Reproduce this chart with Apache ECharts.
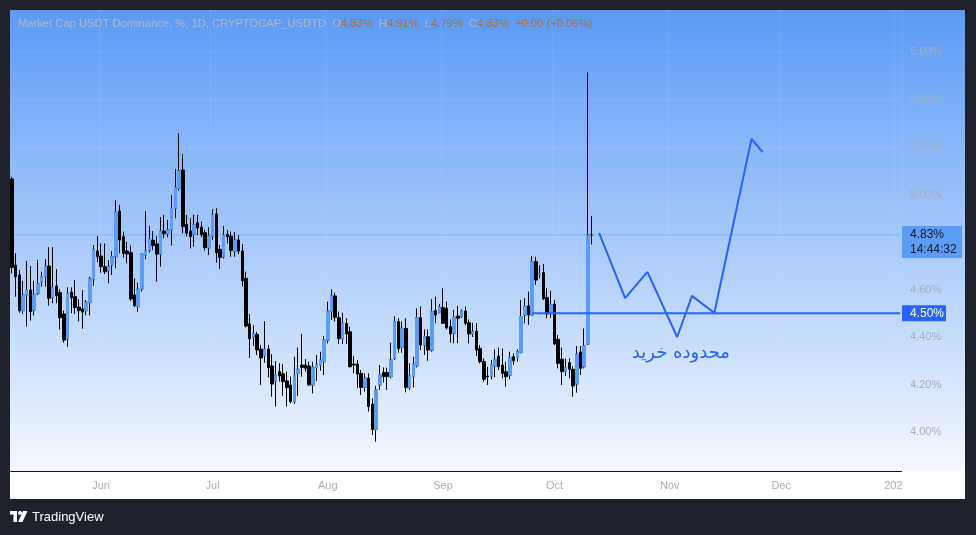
<!DOCTYPE html>
<html><head><meta charset="utf-8">
<script src="https://cdn.jsdelivr.net/npm/echarts@6/dist/echarts.min.js"></script>
<style>html,body{margin:0;padding:0;background:#1e222d;}#c{width:976px;height:535px;}</style>
</head><body><div id="c"></div>
<script>
// ---- data ----
const startYear = 2025, startMonth = 5, startDay = 8; // first category: 2025-05-08
const dayCount = 240;
const opens = [5.065,4.703,4.661,4.511,4.577,4.598,4.514,4.584,4.633,4.654,
4.699,4.566,4.615,4.587,4.497,4.392,4.589,4.570,4.526,4.518,
4.511,4.546,4.644,4.762,4.741,4.696,4.679,4.703,4.738,4.931,
4.822,4.762,4.755,4.577,4.528,4.602,4.745,4.766,4.808,4.792,
4.749,4.846,4.836,4.851,4.942,5.026,5.103,4.874,4.846,4.832,
4.881,4.862,4.839,4.776,4.825,4.918,4.769,4.738,4.832,4.825,
4.762,4.808,4.762,4.647,4.455,4.401,4.411,4.349,4.321,4.349,
4.278,4.215,4.254,4.245,4.215,4.198,4.128,4.247,4.282,4.282,
4.278,4.198,4.272,4.282,4.296,4.387,4.507,4.573,4.481,4.392,
4.458,4.422,4.286,4.286,4.247,4.188,4.227,4.118,4.011,4.199,
4.251,4.251,4.233,4.310,4.465,4.356,4.436,4.188,4.233,4.279,
4.481,4.366,4.401,4.345,4.511,4.502,4.524,4.521,4.444,4.416,
4.488,4.486,4.509,4.460,4.413,4.425,4.352,4.296,4.236,4.236,
4.278,4.320,4.282,4.254,4.240,4.317,4.313,4.335,4.493,4.531,
4.493,4.717,4.665,4.671,4.566,4.500,4.539,4.390,4.306,4.254,
4.292,4.264,4.202,4.337,4.275,4.371,4.83];
const closes = [4.692,4.654,4.511,4.577,4.598,4.507,4.577,4.623,4.654,4.696,
4.563,4.608,4.574,4.481,4.387,4.581,4.566,4.524,4.512,4.505,
4.546,4.644,4.766,4.738,4.696,4.675,4.696,4.738,4.924,4.808,
4.752,4.750,4.560,4.532,4.601,4.749,4.762,4.813,4.785,4.749,
4.846,4.835,4.851,4.942,5.029,5.099,4.865,4.837,4.823,4.872,
4.859,4.831,4.776,4.825,4.914,4.755,4.735,4.829,4.822,4.764,
4.808,4.762,4.637,4.446,4.392,4.413,4.345,4.312,4.349,4.271,
4.202,4.240,4.236,4.212,4.187,4.128,4.240,4.264,4.272,4.268,
4.198,4.272,4.286,4.303,4.387,4.509,4.573,4.483,4.394,4.458,
4.413,4.275,4.282,4.244,4.188,4.227,4.107,4.011,4.177,4.240,
4.233,4.233,4.303,4.465,4.352,4.436,4.188,4.236,4.286,4.481,
4.366,4.401,4.345,4.507,4.493,4.525,4.458,4.439,4.413,4.483,
4.479,4.509,4.458,4.413,4.422,4.345,4.296,4.222,4.233,4.282,
4.306,4.275,4.247,4.233,4.314,4.300,4.338,4.486,4.528,4.493,
4.717,4.640,4.668,4.561,4.497,4.535,4.371,4.289,4.254,4.272,
4.264,4.194,4.328,4.268,4.362,4.829,4.83];
const lows = [4.668,4.570,4.502,4.497,4.444,4.469,4.491,4.577,4.612,4.612,
4.532,4.542,4.542,4.432,4.376,4.359,4.500,4.497,4.465,4.435,
4.491,4.491,4.615,4.716,4.671,4.665,4.626,4.661,4.689,4.752,
4.734,4.710,4.551,4.526,4.507,4.591,4.728,4.756,4.766,4.633,
4.696,4.815,4.820,4.785,4.900,5.016,4.837,4.823,4.773,4.780,
4.829,4.820,4.764,4.745,4.808,4.713,4.686,4.731,4.794,4.738,
4.738,4.750,4.612,4.440,4.312,4.362,4.324,4.198,4.292,4.230,
4.149,4.107,4.212,4.152,4.107,4.121,4.118,4.152,4.233,4.254,
4.194,4.163,4.215,4.258,4.240,4.373,4.472,4.465,4.371,4.371,
4.371,4.272,4.247,4.184,4.156,4.170,4.086,3.987,3.959,4.177,
4.208,4.177,4.226,4.303,4.334,4.334,4.167,4.177,4.188,4.272,
4.345,4.324,4.300,4.338,4.458,4.500,4.455,4.432,4.376,4.373,
4.374,4.480,4.450,4.373,4.400,4.320,4.289,4.212,4.198,4.222,
4.230,4.261,4.226,4.191,4.222,4.282,4.296,4.331,4.458,4.451,
4.490,4.619,4.647,4.556,4.479,4.481,4.366,4.268,4.198,4.236,
4.226,4.149,4.166,4.240,4.268,4.366,4.79];
const highs = [5.075,4.752,4.682,4.637,4.720,4.699,4.637,4.724,4.675,4.728,
4.778,4.778,4.686,4.601,4.511,4.609,4.609,4.640,4.559,4.598,
4.556,4.654,4.787,4.825,4.794,4.794,4.724,4.762,4.977,4.956,
4.844,4.801,4.785,4.647,4.630,4.751,4.931,4.868,4.846,4.825,
4.905,4.914,4.893,4.998,5.107,5.258,5.169,4.914,4.900,4.916,
4.914,4.886,4.851,4.862,4.938,4.942,4.787,4.868,4.851,4.844,
4.841,4.829,4.792,4.675,4.497,4.449,4.422,4.366,4.467,4.366,
4.328,4.299,4.289,4.286,4.254,4.233,4.317,4.356,4.413,4.307,
4.296,4.296,4.324,4.338,4.404,4.549,4.601,4.587,4.507,4.502,
4.479,4.444,4.320,4.303,4.261,4.247,4.247,4.142,4.194,4.282,
4.272,4.271,4.376,4.488,4.479,4.465,4.479,4.289,4.317,4.521,
4.528,4.432,4.432,4.559,4.570,4.539,4.605,4.549,4.474,4.514,
4.531,4.516,4.528,4.474,4.460,4.458,4.366,4.310,4.275,4.303,
4.348,4.356,4.352,4.296,4.338,4.331,4.348,4.556,4.563,4.591,
4.741,4.738,4.703,4.707,4.605,4.595,4.556,4.408,4.356,4.310,
4.310,4.278,4.362,4.362,4.436,5.514,4.91];

const yMin = 3.8, yMax = 5.8, yStep = 0.2;           // price scale
const monthNames = ['Jan','Feb','Mar','Apr','May','Jun','Jul','Aug','Sep','Oct','Nov','Dec'];

const levelValue = 4.50;          // horizontal support line
const levelStart = '2025-09-25';
const lastPrice = 4.83;
const lastTime = '14:44:32';
const projDates = ['2025-10-13','2025-10-20','2025-10-26','2025-11-03','2025-11-07','2025-11-13','2025-11-23','2025-11-26'];
const projValues = [4.838, 4.564, 4.674, 4.400, 4.573, 4.501, 5.234, 5.179];
const noteText = 'محدوده خرید';
const noteDate = '2025-11-04', noteValue = 4.333;
const titleText = 'Market Cap USDT Dominance, %, 1D, CRYPTOCAP_USDTD';
const changeText = '+0.00 (+0.06%)';

// ---- categories ----
const categories = [];
for (let i = 0; i < dayCount; i++) {
  const d = new Date(Date.UTC(startYear, startMonth - 1, startDay + i));
  categories.push(d.toISOString().slice(0, 10));
}
const lastCat = categories[categories.length - 1];
const isMonthStart = (v) => v.slice(8) === '01';

const candleData = opens.map((o, i) => [o, closes[i], lows[i], highs[i]]);
const upBodies = opens.map((o, i) => closes[i] > o ? [o, closes[i], o, closes[i]] : '-');

const FONT = '"Liberation Sans", Arial, sans-serif';
const BLUE = '#2962ff';
const UP = '#5b9cf6';
const GRIDC = 'rgba(255,255,255,0.07)';

const chart = echarts.init(document.getElementById('c'));
chart.setOption({
  backgroundColor: '#1e222d',
  animation: false,
  grid: { left: 10, right: 74, top: 4.5, bottom: 55.5, outerBoundsMode: 'none' },
  xAxis: {
    type: 'category', data: categories, boundaryGap: true,
    axisLine: { show: false }, axisTick: { show: false },
    axisLabel: {
      interval: (i, v) => isMonthStart(v),
      formatter: (v) => { const m = +v.slice(5, 7); return m === 1 ? v.slice(0, 4) : monthNames[m - 1]; },
      color: '#a9adb7', fontSize: 11, fontFamily: FONT, margin: 1
    },
    splitLine: { show: true, interval: (i, v) => isMonthStart(v), lineStyle: { color: GRIDC } }
  },
  yAxis: {
    type: 'value', position: 'right', min: yMin, max: yMax, interval: yStep,
    axisLine: { show: false }, axisTick: { show: false },
    axisLabel: { color: '#a9adb7', fontSize: 11, fontFamily: FONT, margin: 8, showMinLabel: false, showMaxLabel: false,
      formatter: (v) => v.toFixed(2) + '%' },
    splitLine: { show: true, showMinLine: false, showMaxLine: false, lineStyle: { color: GRIDC } }
  },
  series: [
    { type: 'line', name: 'last', z: 1, symbol: 'none', silent: true,
      data: [[categories[0], lastPrice], [lastCat, lastPrice]],
      lineStyle: { color: UP, width: 1, type: 'dotted' } },
    { type: 'candlestick', name: 'wicks', z: 2, barWidth: 3, data: candleData,
      itemStyle: { color: '#000', color0: '#000', borderColor: '#000', borderColor0: '#000', borderColorDoji: '#000', borderWidth: 1 } },
    { type: 'candlestick', name: 'up', z: 3, barWidth: 3, data: upBodies,
      itemStyle: { color: UP, color0: UP, borderColor: UP, borderColor0: UP, borderWidth: 1 } },
    { type: 'line', name: 'level', z: 5, symbol: 'none', silent: true,
      data: [[levelStart, levelValue], [lastCat, levelValue]],
      lineStyle: { color: BLUE, width: 2 } },
    { type: 'line', name: 'projection', z: 5, symbol: 'none', silent: true,
      data: projDates.map((d, i) => [d, projValues[i]]),
      lineStyle: { color: BLUE, width: 2 } }
  ]
});

const yLast = chart.convertToPixel({ yAxisIndex: 0 }, lastPrice);
const yLvl = chart.convertToPixel({ yAxisIndex: 0 }, levelValue);
const notePt = chart.convertToPixel({ xAxisIndex: 0, yAxisIndex: 0 }, [noteDate, noteValue]);
const gridRight = 902, panelRight = 965, panelTop = 10, bandTop = 471, bandBottom = 499;
const n = opens.length - 1;
const f2 = (v) => v.toFixed(2) + '%';
const HF = '11.2px ' + FONT;

chart.setOption({
  graphic: [
    { type: 'rect', z: -10, silent: true, shape: { x: 10, y: panelTop, width: panelRight - 10, height: bandTop - panelTop },
      style: { fill: new echarts.graphic.LinearGradient(0, 0, 0, 1, [{ offset: 0, color: '#5b9bf6' }, { offset: 1, color: '#f4f8ff' }]) } },
    { type: 'rect', z: -9, silent: true, shape: { x: 10, y: bandTop, width: panelRight - 10, height: bandBottom - bandTop }, style: { fill: '#ffffff' } },
    { type: 'rect', z: 50, silent: true, shape: { x: gridRight, y: bandTop + 1, width: panelRight - gridRight, height: bandBottom - bandTop - 1 }, style: { fill: '#ffffff' } },
    { type: 'line', z: 50, silent: true, shape: { x1: 10, y1: bandTop + 0.5, x2: gridRight, y2: bandTop + 0.5 }, style: { stroke: '#131722', lineWidth: 1 } },
    { type: 'rect', z: 60, silent: true, shape: { x: 0, y: 0, width: 976, height: panelTop }, style: { fill: '#1e222d' } },
    // last price box
    { type: 'rect', z: 60, silent: true, shape: { x: gridRight, y: yLast - 9, width: 60, height: 32 }, style: { fill: UP } },
    { type: 'text', z: 61, silent: true, x: 910, y: yLast, style: { text: f2(lastPrice), fill: '#131722', font: '12px ' + FONT, verticalAlign: 'middle', align: 'left' } },
    { type: 'text', z: 61, silent: true, x: 910, y: yLast + 15, style: { text: lastTime, fill: '#131722', font: '12px ' + FONT, verticalAlign: 'middle', align: 'left' } },
    // level box
    { type: 'rect', z: 60, silent: true, shape: { x: gridRight, y: yLvl - 8, width: 44, height: 16 }, style: { fill: BLUE } },
    { type: 'text', z: 61, silent: true, x: 910, y: yLvl, style: { text: f2(levelValue), fill: '#ffffff', font: '12px ' + FONT, verticalAlign: 'middle', align: 'left' } },
    // note
    { type: 'text', z: 61, silent: true, x: notePt[0], y: notePt[1], style: { text: noteText, fill: BLUE, font: '18px "DejaVu Sans", sans-serif', verticalAlign: 'middle', align: 'center' } },
    // header
    { type: 'text', z: 61, silent: true, x: 18, y: 24, style: {
      text: '{g|' + titleText + '  O}{o|' + f2(opens[n]) + '}{g|  H}{o|' + f2(highs[n]) + '}{g|  L}{o|' + f2(lows[n]) + '}{g|  C}{o|' + f2(closes[n]) + '}{o|  ' + changeText + '}',
      verticalAlign: 'middle', align: 'left', font: HF,
      rich: { g: { fill: '#b2b5be', font: HF }, o: { fill: '#b8702c', font: HF } } } },
    // TradingView logo
    { type: 'group', z: 61, silent: true, x: 10, y: 511, children: [
      { type: 'rect', shape: { x: 0, y: 0, width: 7, height: 3.5 }, style: { fill: '#ffffff' } },
      { type: 'rect', shape: { x: 3.5, y: 0, width: 3.5, height: 11 }, style: { fill: '#ffffff' } },
      { type: 'circle', shape: { cx: 10, cy: 2, r: 2 }, style: { fill: '#ffffff' } },
      { type: 'polygon', shape: { points: [[13, 0], [17.5, 0], [12.5, 11], [8, 11]] }, style: { fill: '#ffffff' } }
    ] },
    { type: 'text', z: 61, silent: true, x: 32, y: 517, style: { text: 'TradingView', fill: '#ffffff', font: '13px ' + FONT, verticalAlign: 'middle', align: 'left' } }
  ]
});
</script>
</body></html>
